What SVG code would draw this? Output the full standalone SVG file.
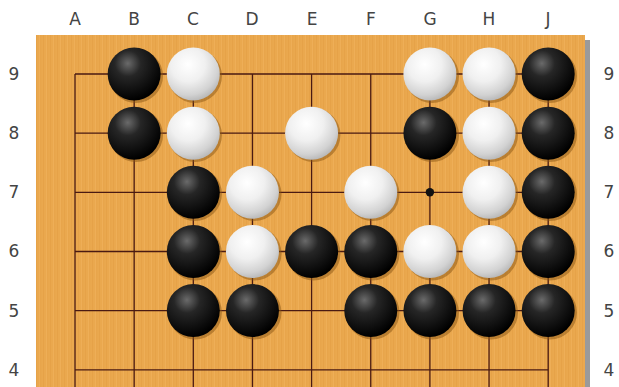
<svg xmlns="http://www.w3.org/2000/svg" width="619" height="387" viewBox="0 0 619 387">
<defs>
<pattern id="grain" x="0" y="0" width="7" height="387" patternUnits="userSpaceOnUse">
<rect width="7" height="387" fill="#EAA84E"/>
<rect x="1" width="1" height="387" fill="#E29E44" opacity="0.6"/>
<rect x="4" width="1" height="387" fill="#F0B25E" opacity="0.6"/>
<rect x="5.5" width="0.8" height="387" fill="#DF9C40" opacity="0.4"/>
</pattern>
<radialGradient id="gb" cx="0.38" cy="0.3" r="0.7">
<stop offset="0" stop-color="#6a6a6a"/>
<stop offset="0.35" stop-color="#262626"/>
<stop offset="1" stop-color="#000"/>
</radialGradient>
<radialGradient id="gw" cx="0.4" cy="0.32" r="0.72">
<stop offset="0" stop-color="#ffffff"/>
<stop offset="0.45" stop-color="#f0f0f0"/>
<stop offset="0.8" stop-color="#d2d2d2"/>
<stop offset="1" stop-color="#b4b4b4"/>
</radialGradient>
<circle id="b" r="26.5" fill="url(#gb)"/>
<circle id="w" r="26.5" fill="url(#gw)"/>
<circle id="sh" r="27" fill="#8a5514" opacity="0.5"/>
</defs>
<style>
.lbl{font-family:"DejaVu Sans","Liberation Sans",sans-serif;font-size:17px;fill:#444;text-anchor:middle;dominant-baseline:central}
.ln{stroke:#4a1a12;stroke-width:1.3;fill:none}
</style>
<rect width="619" height="387" fill="#fff"/>
<rect x="585" y="40" width="5" height="347" fill="#9a9a9a"/>
<rect x="36" y="35" width="549" height="352" fill="url(#grain)"/>
<g id="labels">
<text class="lbl" x="75" y="19">A</text>
<text class="lbl" x="134" y="19">B</text>
<text class="lbl" x="193" y="19">C</text>
<text class="lbl" x="252" y="19">D</text>
<text class="lbl" x="312" y="19">E</text>
<text class="lbl" x="371" y="19">F</text>
<text class="lbl" x="430" y="19">G</text>
<text class="lbl" x="489" y="19">H</text>
<text class="lbl" x="548" y="19">J</text>
<text class="lbl" x="14" y="74">9</text>
<text class="lbl" x="14" y="133">8</text>
<text class="lbl" x="14" y="192">7</text>
<text class="lbl" x="14" y="251">6</text>
<text class="lbl" x="14" y="311">5</text>
<text class="lbl" x="14" y="370">4</text>
<text class="lbl" x="609" y="74">9</text>
<text class="lbl" x="609" y="133">8</text>
<text class="lbl" x="609" y="192">7</text>
<text class="lbl" x="609" y="251">6</text>
<text class="lbl" x="609" y="311">5</text>
<text class="lbl" x="609" y="370">4</text>
</g>
<g id="grid" class="ln">
<path d="M75 74H548.2M75 133.2H548.2M75 192.3H548.2M75 251.5H548.2M75 310.6H548.2M75 369.8H548.2"/>
<path d="M75 74V387M134.15 74V387M193.3 74V387M252.45 74V387M311.6 74V387M370.75 74V387M429.9 74V387M489.05 74V387M548.2 74V387"/>
</g>
<g id="hoshi-G7"><circle cx="429.9" cy="192.3" r="4.2" fill="#111"/></g>
<g id="stones">
<g id="B9"><use href="#sh" x="136" y="76"/><use href="#b" x="134.15" y="74"/></g>
<g id="C9"><use href="#sh" x="195" y="76"/><use href="#w" x="193.3" y="74"/></g>
<g id="G9"><use href="#sh" x="432" y="76"/><use href="#w" x="429.9" y="74"/></g>
<g id="H9"><use href="#sh" x="491" y="76"/><use href="#w" x="489.05" y="74"/></g>
<g id="J9"><use href="#sh" x="550" y="76"/><use href="#b" x="548.2" y="74"/></g>
<g id="B8"><use href="#sh" x="136" y="135"/><use href="#b" x="134.15" y="133.2"/></g>
<g id="C8"><use href="#sh" x="195" y="135"/><use href="#w" x="193.3" y="133.2"/></g>
<g id="E8"><use href="#sh" x="313.5" y="135"/><use href="#w" x="311.6" y="133.2"/></g>
<g id="G8"><use href="#sh" x="432" y="135"/><use href="#b" x="429.9" y="133.2"/></g>
<g id="H8"><use href="#sh" x="491" y="135"/><use href="#w" x="489.05" y="133.2"/></g>
<g id="J8"><use href="#sh" x="550" y="135"/><use href="#b" x="548.2" y="133.2"/></g>
<g id="C7"><use href="#sh" x="195" y="194"/><use href="#b" x="193.3" y="192.3"/></g>
<g id="D7"><use href="#sh" x="254.5" y="194"/><use href="#w" x="252.45" y="192.3"/></g>
<g id="F7"><use href="#sh" x="372.5" y="194"/><use href="#w" x="370.75" y="192.3"/></g>
<g id="H7"><use href="#sh" x="491" y="194"/><use href="#w" x="489.05" y="192.3"/></g>
<g id="J7"><use href="#sh" x="550" y="194"/><use href="#b" x="548.2" y="192.3"/></g>
<g id="C6"><use href="#sh" x="195" y="253.5"/><use href="#b" x="193.3" y="251.5"/></g>
<g id="D6"><use href="#sh" x="254.5" y="253.5"/><use href="#w" x="252.45" y="251.5"/></g>
<g id="E6"><use href="#sh" x="313.5" y="253.5"/><use href="#b" x="311.6" y="251.5"/></g>
<g id="F6"><use href="#sh" x="372.5" y="253.5"/><use href="#b" x="370.75" y="251.5"/></g>
<g id="G6"><use href="#sh" x="432" y="253.5"/><use href="#w" x="429.9" y="251.5"/></g>
<g id="H6"><use href="#sh" x="491" y="253.5"/><use href="#w" x="489.05" y="251.5"/></g>
<g id="J6"><use href="#sh" x="550" y="253.5"/><use href="#b" x="548.2" y="251.5"/></g>
<g id="C5"><use href="#sh" x="195" y="312.5"/><use href="#b" x="193.3" y="310.6"/></g>
<g id="D5"><use href="#sh" x="254.5" y="312.5"/><use href="#b" x="252.45" y="310.6"/></g>
<g id="F5"><use href="#sh" x="372.5" y="312.5"/><use href="#b" x="370.75" y="310.6"/></g>
<g id="G5"><use href="#sh" x="432" y="312.5"/><use href="#b" x="429.9" y="310.6"/></g>
<g id="H5"><use href="#sh" x="491" y="312.5"/><use href="#b" x="489.05" y="310.6"/></g>
<g id="J5"><use href="#sh" x="550" y="312.5"/><use href="#b" x="548.2" y="310.6"/></g>
</g>
</svg>
